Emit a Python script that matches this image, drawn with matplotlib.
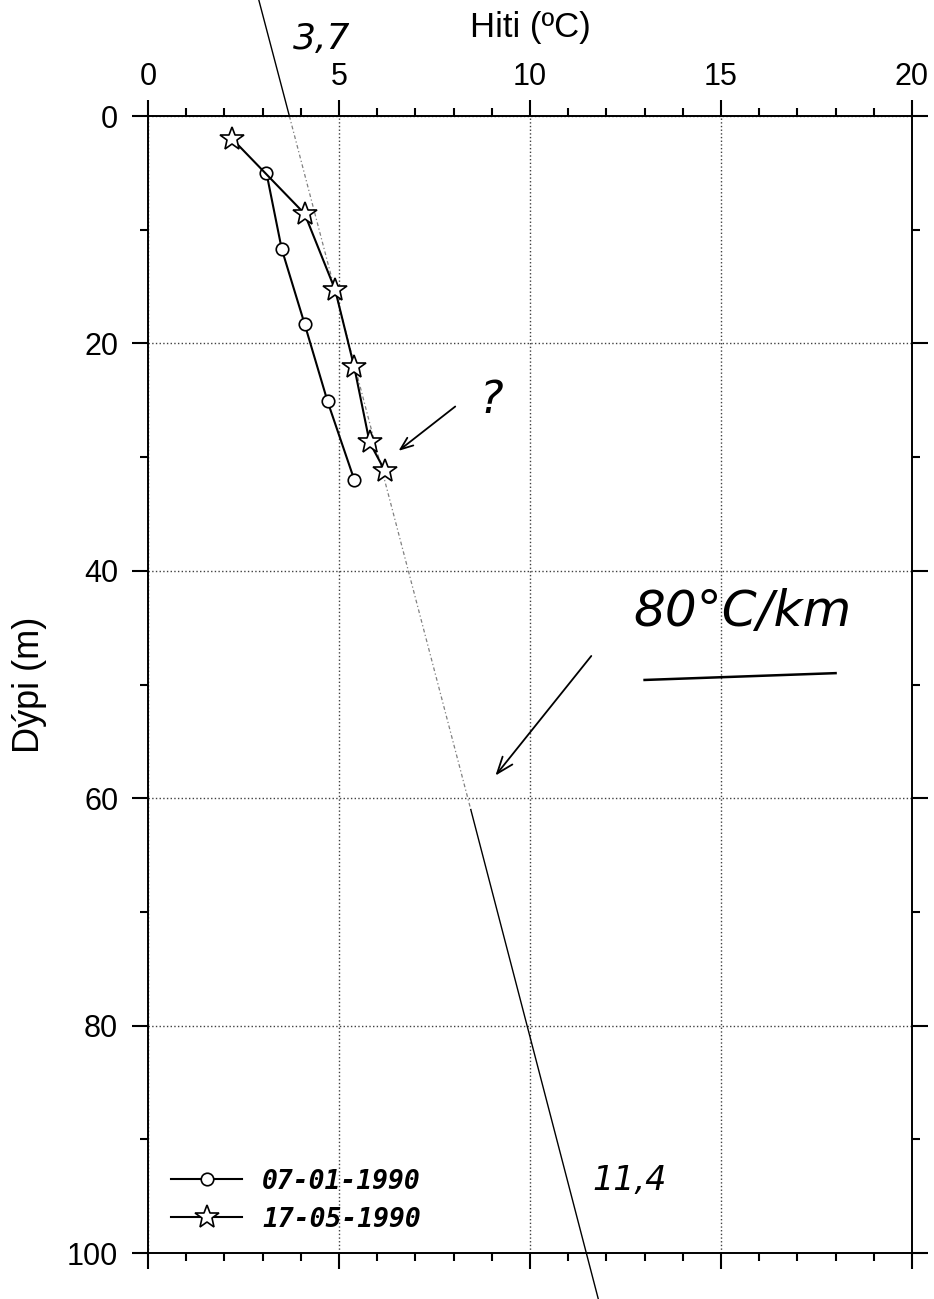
import matplotlib
matplotlib.use("Agg")
import matplotlib.pyplot as plt
from matplotlib.ticker import MultipleLocator

# mæligögn, hiti (ºC) á móti dýpi (m)
dypi_jan = [5.0, 11.7, 18.3, 25.1, 32.0]
hiti_jan = [3.1, 3.5, 4.1, 4.7, 5.4]
dypi_mai = [2.0, 8.6, 15.3, 22.1, 28.7, 31.2]
hiti_mai = [2.2, 4.1, 4.9, 5.4, 5.8, 6.2]
dags_jan = "07-01-1990"
dags_mai = "17-05-1990"

# handteiknaða stigullínan (80 ºC/km)
stigull_dypi = [-10.2, 0.0, 61.0, 104.2]
stigull_hiti = [2.9, 3.7, 8.45, 11.8]

xticks = [0, 5, 10, 15, 20]
yticks = [0, 20, 40, 60, 80, 100]

plt.rcParams['font.family'] = ['Liberation Sans', 'DejaVu Sans']

fig = plt.figure(figsize=(9.34, 12.99), dpi=100)
ax = fig.add_axes([0.1585, 0.0354, 0.8179, 0.8753])

# stigullína, blýantur
ax.plot(stigull_hiti[:2], stigull_dypi[:2], color='black', lw=1.0, clip_on=False)
ax.plot(stigull_hiti[1:3], stigull_dypi[1:3], color='0.5', lw=0.9, ls=(0, (3, 2, 1, 2)))
ax.plot(stigull_hiti[2:], stigull_dypi[2:], color='black', lw=1.0, clip_on=False)

ax.plot(hiti_jan, dypi_jan, color='black', lw=1.5, marker='o', ms=9,
        mfc='white', mec='black', mew=1.2, label=dags_jan, zorder=3)
ax.plot(hiti_mai, dypi_mai, color='black', lw=1.5, marker='*', ms=18,
        mfc='white', mec='black', mew=1.2, label=dags_mai, zorder=3)

ax.set_xlim(0, 20)
ax.set_ylim(100, 0)
ax.xaxis.set_ticks_position('both')
ax.yaxis.set_ticks_position('both')
ax.xaxis.set_label_position('top')
ax.set_xticks(xticks)
ax.set_yticks(yticks)
ax.xaxis.set_minor_locator(MultipleLocator(1))
ax.yaxis.set_minor_locator(MultipleLocator(10))
ax.tick_params(which='both', direction='out', labeltop=True, labelbottom=False,
               labelleft=True, labelright=False, labelsize=22, width=1.5)
ax.tick_params(which='major', length=11.5, pad=10)
ax.tick_params(axis='x', which='major', pad=5.5)
ax.tick_params(which='minor', length=6)
for s in ax.spines.values():
    s.set_linewidth(1.4)

ax.grid(which='major', ls=':', color='0.25', lw=1.0)

ax.set_xlabel('Hiti (ºC)', fontsize=25, labelpad=18)
ax.set_ylabel('Dýpi (m)', fontsize=26, labelpad=14)

leg = ax.legend(loc='lower left', bbox_to_anchor=(0.03, 0.018), frameon=False,
                handlelength=2.7, handletextpad=0.75, labelspacing=0.45,
                borderpad=0, borderaxespad=0,
                prop={'family': 'DejaVu Sans Mono', 'weight': 'bold',
                      'style': 'oblique', 'size': 19})

# handskrifaðar athugasemdir
hand = dict(family='DejaVu Sans', style='oblique', weight='light', color='black')
ax.text(4.55, -6.8, '3,7', fontsize=26, ha='center', va='center', **hand)
ax.text(12.6, 93.6, '11,4', fontsize=24, ha='center', va='center', **hand)
ax.text(9.0, 25.0, '?', fontsize=32, ha='center', va='center', **hand)
ax.text(15.55, 43.6, '80°C/km', fontsize=36, ha='center', va='center', **hand)
ax.plot([13.0, 18.0], [49.6, 49.0], color='black', lw=1.8)
ax.annotate('', xy=(6.5, 29.6), xytext=(8.1, 25.4),
            arrowprops=dict(arrowstyle='->,head_length=0.9,head_width=0.35',
                            lw=1.3, color='black'))
ax.annotate('', xy=(9.05, 58.2), xytext=(11.65, 47.3),
            arrowprops=dict(arrowstyle='->,head_length=1.2,head_width=0.45',
                            lw=1.3, color='black'))

fig.savefig('out.png', dpi=100)
